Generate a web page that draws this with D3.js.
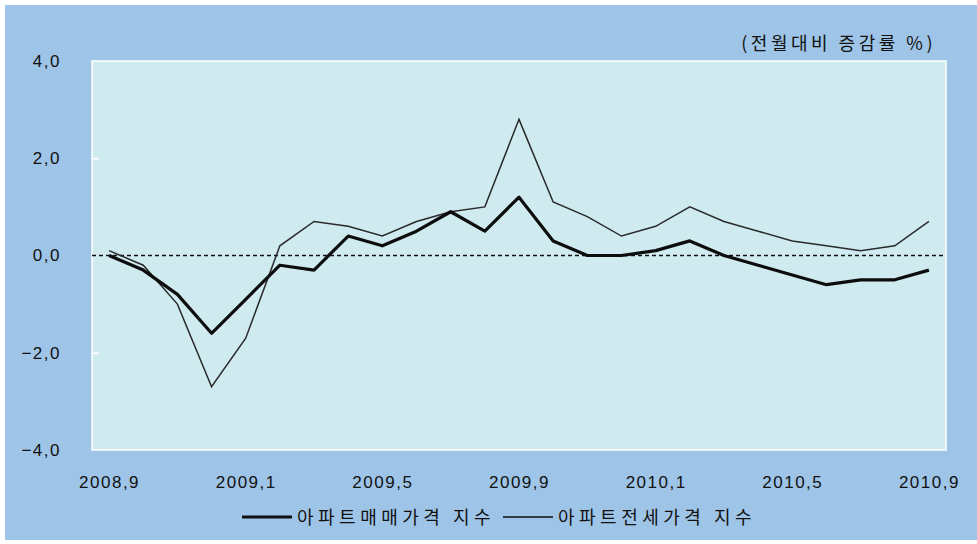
<!DOCTYPE html>
<meta charset="utf-8">
<style>
body { margin:0; background:#fff; }
text { font-family: "Noto Sans CJK KR", "DejaVu Sans", sans-serif; fill:#111; }
.tick text { font-family: "Liberation Sans", Arial, sans-serif; }
</style>
<svg width="977" height="544"></svg>
<script src="https://d3js.org/d3.v7.min.js"></script>
<script>

var months = ["2008,9","2008,10","2008,11","2008,12","2009,1","2009,2","2009,3","2009,4","2009,5","2009,6","2009,7","2009,8","2009,9",
              "2009,10","2009,11","2009,12","2010,1","2010,2","2010,3","2010,4","2010,5","2010,6","2010,7","2010,8","2010,9"];
var tickMonths = ["2008,9","2009,1","2009,5","2009,9","2010,1","2010,5","2010,9"];
var yTicks = [4, 2, 0, -2, -4];

// 아파트매매가격 지수
var sale = [0.0,-0.3,-0.8,-1.6,-0.9,-0.2,-0.3,0.4,0.2,0.5,0.9,0.5,1.2,
            0.3,0.0,0.0,0.1,0.3,0.0,-0.2,-0.4,-0.6,-0.5,-0.5,-0.3];
// 아파트전세가격 지수
var rent = [0.1,-0.2,-1.0,-2.7,-1.7,0.2,0.7,0.6,0.4,0.7,0.9,1.0,2.8,
            1.1,0.8,0.4,0.6,1.0,0.7,0.5,0.3,0.2,0.1,0.2,0.7];

var svg = d3.select("svg"),
    plotLeft = 92, plotRight = 946, plotTop = 61, plotBottom = 450;

svg.append("rect")
    .attr("x", 5).attr("y", 5).attr("width", 972).attr("height", 535)
    .attr("fill", "#9ec4e7");

var x = d3.scalePoint().domain(months).range([plotLeft, plotRight]).padding(0.5);
var y = d3.scaleLinear().domain([-4, 4]).range([plotBottom, plotTop]);

svg.append("rect")
    .attr("x", plotLeft).attr("y", plotTop)
    .attr("width", plotRight - plotLeft).attr("height", plotBottom - plotTop)
    .attr("fill", "#cfebf0")
    .attr("stroke", "#fff").attr("stroke-width", 1.5);

// y axis
var yAxis = svg.append("g")
    .attr("transform", "translate(" + plotLeft + ",0)")
    .call(d3.axisRight(y).tickValues(yTicks).tickSize(7).tickFormat(function(d) { return d3.format(".1f")(d).replace(".", ",").replace("-", "\u2212"); }));
yAxis.select(".domain").remove();
yAxis.selectAll("line").attr("stroke", "#fff").attr("stroke-width", 1.5);
yAxis.selectAll(".tick").filter(function(d) { return Math.abs(d) === 4 || d === 0; }).select("line").remove();
yAxis.selectAll("text")
    .attr("x", -31).attr("text-anchor", "end")
    .attr("font-size", 17).attr("letter-spacing", 1.5).attr("fill", "#111");

// x axis
var xAxis = svg.append("g")
    .attr("transform", "translate(0," + plotBottom + ")")
    .call(d3.axisBottom(x).tickValues(tickMonths).tickSize(0).tickPadding(26));
xAxis.select(".domain").remove();
xAxis.selectAll("text")
    .attr("font-size", 17).attr("letter-spacing", 1.5).attr("fill", "#111");

// zero line
svg.append("line")
    .attr("x1", plotLeft).attr("x2", plotRight)
    .attr("y1", y(0)).attr("y2", y(0))
    .attr("stroke", "#111").attr("stroke-width", 1.3)
    .attr("stroke-dasharray", "4,3");

var line = d3.line()
    .x(function(d, i) { return x(months[i]); })
    .y(function(d) { return y(d); });

svg.append("path")
    .datum(rent)
    .attr("d", line)
    .attr("fill", "none")
    .attr("stroke", "#2a2a2a")
    .attr("stroke-width", 1.5);

svg.append("path")
    .datum(sale)
    .attr("d", line)
    .attr("fill", "none")
    .attr("stroke", "#0d0d0d")
    .attr("stroke-width", 3.2)
    .attr("stroke-linejoin", "round");

// unit label
svg.append("text")
    .attr("x", 936).attr("y", 50)
    .attr("text-anchor", "end")
    .attr("font-size", 18)
    .attr("letter-spacing", 3.5)
    .text("(전월대비 증감률 %)");

// legend
var legend = [
  { name: "아파트매매가격 지수", width: 3.2, x: 242 },
  { name: "아파트전세가격 지수", width: 1.5, x: 503 }
];
var lg = svg.selectAll(".legend").data(legend).enter().append("g")
    .attr("transform", function(d) { return "translate(" + d.x + ",517)"; });
lg.append("line")
    .attr("x1", 0).attr("x2", 50)
    .attr("stroke", "#111")
    .attr("stroke-width", function(d) { return d.width; });
lg.append("text")
    .attr("x", 55).attr("y", 7)
    .attr("font-size", 18)
    .attr("letter-spacing", 4.5)
    .text(function(d) { return d.name; });

</script>
